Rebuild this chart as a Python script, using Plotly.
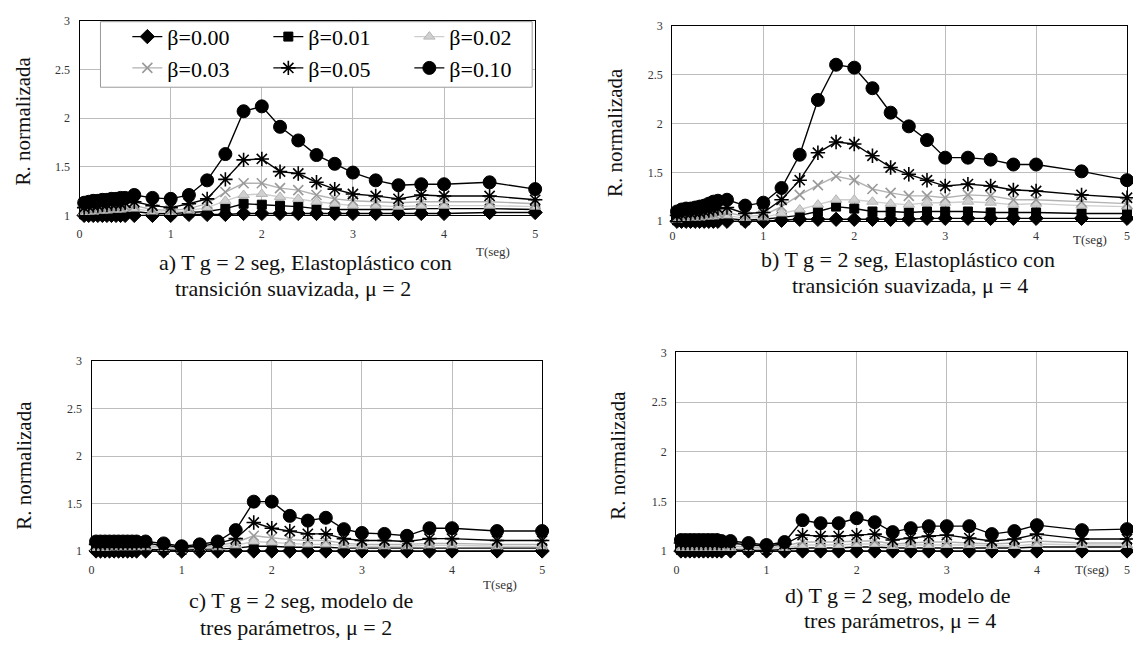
import plotly.graph_objects as go

W, H = 1133, 648

# Periods T (s) shared by every curve
T = [0.05, 0.1, 0.15, 0.2, 0.25, 0.3, 0.35, 0.4, 0.45, 0.5, 0.6, 0.8, 1.0, 1.2, 1.4,
     1.6, 1.8, 2.0, 2.2, 2.4, 2.6, 2.8, 3.0, 3.25, 3.5, 3.75, 4.0, 4.5, 5.0]

# a) smoothed elastoplastic, mu = 2
A_000 = [1.00, 1.00, 1.00, 1.00, 1.00, 1.00, 1.00, 1.00, 1.00, 1.00, 1.00, 1.00, 1.00, 1.01, 1.01,
         1.01, 1.02, 1.02, 1.02, 1.02, 1.02, 1.02, 1.02, 1.02, 1.02, 1.02, 1.02, 1.03, 1.03]
A_001 = [1.01, 1.02, 1.02, 1.02, 1.03, 1.03, 1.03, 1.03, 1.04, 1.04, 1.04, 1.02, 1.02, 1.03, 1.04,
         1.07, 1.12, 1.11, 1.10, 1.09, 1.07, 1.06, 1.06, 1.06, 1.06, 1.07, 1.07, 1.07, 1.06]
A_002 = [1.03, 1.04, 1.04, 1.05, 1.05, 1.05, 1.06, 1.06, 1.06, 1.07, 1.07, 1.04, 1.03, 1.05, 1.08,
         1.15, 1.21, 1.22, 1.19, 1.17, 1.14, 1.12, 1.10, 1.10, 1.09, 1.10, 1.10, 1.10, 1.09]
A_003 = [1.05, 1.06, 1.06, 1.07, 1.07, 1.08, 1.08, 1.08, 1.09, 1.09, 1.10, 1.06, 1.05, 1.07, 1.12,
         1.24, 1.33, 1.33, 1.28, 1.26, 1.21, 1.17, 1.15, 1.14, 1.13, 1.14, 1.14, 1.14, 1.12]
A_005 = [1.08, 1.09, 1.10, 1.10, 1.11, 1.11, 1.12, 1.12, 1.12, 1.13, 1.14, 1.10, 1.08, 1.12, 1.17,
         1.37, 1.57, 1.58, 1.45, 1.43, 1.34, 1.27, 1.22, 1.20, 1.17, 1.21, 1.20, 1.20, 1.16]
A_010 = [1.13, 1.14, 1.15, 1.15, 1.16, 1.16, 1.17, 1.17, 1.18, 1.18, 1.21, 1.18, 1.17, 1.21, 1.36,
         1.63, 2.07, 2.12, 1.91, 1.77, 1.62, 1.53, 1.44, 1.36, 1.31, 1.32, 1.32, 1.34, 1.27]

# b) smoothed elastoplastic, mu = 4
B_000 = [1.00, 1.00, 1.00, 1.00, 1.00, 1.00, 1.00, 1.00, 1.00, 1.00, 1.00, 1.00, 1.00, 1.01, 1.02,
         1.02, 1.02, 1.02, 1.02, 1.02, 1.02, 1.03, 1.03, 1.03, 1.03, 1.03, 1.03, 1.03, 1.03]
B_001 = [1.01, 1.01, 1.02, 1.02, 1.02, 1.02, 1.03, 1.03, 1.03, 1.03, 1.03, 1.01, 1.02, 1.04, 1.06,
         1.10, 1.15, 1.13, 1.10, 1.10, 1.09, 1.10, 1.10, 1.10, 1.09, 1.09, 1.09, 1.08, 1.08]
B_002 = [1.02, 1.03, 1.03, 1.04, 1.04, 1.04, 1.05, 1.05, 1.05, 1.06, 1.06, 1.03, 1.04, 1.08, 1.12,
         1.17, 1.22, 1.22, 1.20, 1.18, 1.17, 1.19, 1.19, 1.20, 1.19, 1.17, 1.18, 1.16, 1.15]
B_003 = [1.04, 1.05, 1.05, 1.06, 1.06, 1.06, 1.07, 1.07, 1.08, 1.08, 1.09, 1.05, 1.06, 1.15, 1.27,
         1.37, 1.46, 1.42, 1.33, 1.29, 1.26, 1.26, 1.24, 1.27, 1.26, 1.22, 1.22, 1.20, 1.18]
B_005 = [1.06, 1.07, 1.08, 1.08, 1.09, 1.09, 1.10, 1.11, 1.12, 1.13, 1.14, 1.08, 1.09, 1.22, 1.42,
         1.70, 1.81, 1.79, 1.67, 1.55, 1.48, 1.42, 1.36, 1.38, 1.36, 1.32, 1.31, 1.27, 1.24]
B_010 = [1.10, 1.12, 1.13, 1.13, 1.14, 1.15, 1.16, 1.18, 1.20, 1.21, 1.22, 1.16, 1.19, 1.34, 1.68,
         2.24, 2.60, 2.57, 2.36, 2.11, 1.97, 1.83, 1.65, 1.65, 1.63, 1.58, 1.58, 1.51, 1.42]

# c) three-parameter model, mu = 2
C_000 = [1.00, 1.00, 1.00, 1.00, 1.00, 1.00, 1.00, 1.00, 1.00, 1.00, 1.00, 1.00, 1.00, 1.00, 1.00,
         1.00, 1.00, 1.00, 1.00, 1.00, 1.00, 1.00, 1.00, 1.00, 1.00, 1.00, 1.00, 1.00, 1.00]
C_001 = [1.02, 1.02, 1.02, 1.02, 1.02, 1.02, 1.02, 1.02, 1.02, 1.02, 1.02, 1.01, 1.01, 1.02, 1.02,
         1.03, 1.05, 1.05, 1.04, 1.04, 1.04, 1.03, 1.03, 1.03, 1.03, 1.03, 1.03, 1.03, 1.03]
C_002 = [1.03, 1.03, 1.03, 1.04, 1.04, 1.04, 1.04, 1.04, 1.04, 1.04, 1.04, 1.03, 1.02, 1.03, 1.04,
         1.06, 1.10, 1.09, 1.08, 1.07, 1.07, 1.06, 1.05, 1.05, 1.05, 1.06, 1.06, 1.05, 1.05]
C_003 = [1.05, 1.05, 1.05, 1.05, 1.05, 1.06, 1.06, 1.06, 1.06, 1.06, 1.06, 1.04, 1.03, 1.04, 1.06,
         1.09, 1.16, 1.14, 1.12, 1.11, 1.11, 1.08, 1.07, 1.07, 1.07, 1.08, 1.08, 1.07, 1.07]
C_005 = [1.07, 1.07, 1.08, 1.08, 1.08, 1.08, 1.08, 1.08, 1.08, 1.08, 1.08, 1.06, 1.04, 1.05, 1.08,
         1.13, 1.30, 1.24, 1.21, 1.18, 1.18, 1.13, 1.11, 1.11, 1.10, 1.13, 1.13, 1.11, 1.11]
C_010 = [1.10, 1.10, 1.10, 1.10, 1.10, 1.10, 1.10, 1.10, 1.10, 1.10, 1.10, 1.08, 1.05, 1.07, 1.10,
         1.22, 1.52, 1.52, 1.37, 1.32, 1.35, 1.23, 1.19, 1.18, 1.16, 1.24, 1.24, 1.21, 1.21]

# d) three-parameter model, mu = 4
D_000 = [1.00, 1.00, 1.00, 1.00, 1.00, 1.00, 1.00, 1.00, 1.00, 1.00, 1.00, 1.00, 1.00, 1.00, 1.00,
         1.00, 1.00, 1.00, 1.00, 1.00, 1.00, 1.00, 1.00, 1.00, 1.00, 1.00, 1.00, 1.00, 1.00]
D_001 = [1.01, 1.01, 1.01, 1.01, 1.01, 1.01, 1.01, 1.01, 1.01, 1.01, 1.01, 1.01, 1.01, 1.02, 1.03,
         1.03, 1.03, 1.04, 1.04, 1.03, 1.03, 1.03, 1.03, 1.03, 1.03, 1.03, 1.04, 1.04, 1.04]
D_002 = [1.03, 1.03, 1.03, 1.03, 1.03, 1.03, 1.03, 1.03, 1.03, 1.03, 1.03, 1.02, 1.02, 1.03, 1.06,
         1.06, 1.06, 1.07, 1.07, 1.05, 1.06, 1.06, 1.06, 1.06, 1.05, 1.05, 1.07, 1.06, 1.06]
D_003 = [1.05, 1.05, 1.05, 1.05, 1.05, 1.05, 1.05, 1.05, 1.05, 1.05, 1.05, 1.04, 1.03, 1.05, 1.09,
         1.09, 1.09, 1.10, 1.10, 1.07, 1.08, 1.09, 1.09, 1.08, 1.07, 1.08, 1.10, 1.08, 1.08]
D_005 = [1.08, 1.08, 1.08, 1.08, 1.08, 1.08, 1.08, 1.08, 1.08, 1.08, 1.08, 1.06, 1.05, 1.07, 1.16,
         1.15, 1.15, 1.16, 1.17, 1.11, 1.13, 1.15, 1.16, 1.13, 1.10, 1.12, 1.17, 1.12, 1.12]
D_010 = [1.11, 1.11, 1.11, 1.11, 1.11, 1.11, 1.11, 1.11, 1.11, 1.10, 1.10, 1.08, 1.06, 1.09, 1.31,
         1.28, 1.28, 1.33, 1.29, 1.19, 1.23, 1.25, 1.25, 1.25, 1.17, 1.20, 1.26, 1.21, 1.22]

BETA_LABELS = ["β=0.00", "β=0.01", "β=0.02", "β=0.03", "β=0.05", "β=0.10"]
X_TICKS = [0, 1, 2, 3, 4, 5]
Y_TICKS = [1, 1.5, 2, 2.5, 3]
Y_TICK_TEXT = ["1", "1.5", "2", "2.5", "3"]

SERIF = "Liberation Serif, Times New Roman, serif"

# line / marker look of each beta curve
STYLES = [
    dict(line=dict(color="black", width=1.4),
         marker=dict(symbol="diamond", size=11, color="black", line=dict(color="black", width=1))),
    dict(line=dict(color="black", width=1.4),
         marker=dict(symbol="square", size=9, color="black", line=dict(color="black", width=1))),
    dict(line=dict(color="#cdcdcd", width=1.4),
         marker=dict(symbol="triangle-up", size=10, color="#d0d0d0", line=dict(color="#b5b5b5", width=1))),
    dict(line=dict(color="#b2b2b2", width=1.4),
         marker=dict(symbol="x-thin-open", size=10, color="#999999", line=dict(color="#999999", width=1.6))),
    dict(line=dict(color="black", width=1.4),
         marker=dict(symbol="asterisk-open", size=12, color="black", line=dict(color="black", width=1.6))),
    dict(line=dict(color="black", width=1.4),
         marker=dict(symbol="circle", size=13, color="black", line=dict(color="black", width=1))),
]

PANELS = [
    dict(series=[A_000, A_001, A_002, A_003, A_005, A_010], box=(77, 535, 14, 213),
         cap1=("a) T g = 2 seg, Elastoplástico con", 304, 261),
         cap2=("transición suavizada, μ = 2", 292, 288),
         tseg=(493, 250), ytitle=(21, 116)),
    dict(series=[B_000, B_001, B_002, B_003, B_005, B_010], box=(673, 1130, 19, 219),
         cap1=("b) T g = 2 seg, Elastoplástico con", 910, 258),
         cap2=("transición suavizada, μ = 4", 912, 285),
         tseg=(1093, 238), ytitle=(615, 128)),
    dict(series=[C_000, C_001, C_002, C_003, C_005, C_010], box=(89, 542, 362, 556),
         cap1=("c) T g = 2 seg, modelo de", 300, 607),
         cap2=("tres parámetros, μ = 2", 295, 634),
         tseg=(500, 590), ytitle=(21, 468)),
    dict(series=[D_000, D_001, D_002, D_003, D_005, D_010], box=(677, 1130, 353, 556),
         cap1=("d) T g = 2 seg, modelo de", 899, 601),
         cap2=("tres parámetros, μ = 4", 902, 627),
         tseg=(1095, 575), ytitle=(618, 458)),
]


def px_x(x):
    return x / W


def px_y(y):
    return 1 - y / H


fig = go.Figure()
annotations = []
layout_axes = {}

for i, p in enumerate(PANELS):
    n = "" if i == 0 else str(i + 1)
    x0, x1, y0, y1 = p["box"]
    axis_common = dict(showline=True, linecolor="black", linewidth=1.4, mirror=True,
                       showgrid=True, gridcolor="#bdbdbd", gridwidth=1, zeroline=False,
                       ticks="", tickfont=dict(family=SERIF, size=12, color="#333"))
    layout_axes["xaxis" + n] = dict(axis_common, domain=[px_x(x0), px_x(x1)], range=[0, 5],
                                    tickvals=X_TICKS, anchor="y" + n,
                                    ticklabelstandoff=3 if i == 1 else 7)
    layout_axes["yaxis" + n] = dict(axis_common, domain=[px_y(y1), px_y(y0)], range=[1, 3],
                                    tickvals=Y_TICKS, ticktext=Y_TICK_TEXT, anchor="x" + n,
                                    ticklabelstandoff=6)
    for k, (vals, st) in enumerate(zip(p["series"], STYLES)):
        fig.add_trace(go.Scatter(
            x=T, y=vals, mode="lines+markers", name=BETA_LABELS[k],
            line=st["line"], marker=st["marker"], cliponaxis=False,
            xaxis="x" + n, yaxis="y" + n,
            showlegend=(i == 0), legend="legend" if k < 3 else "legend2",
        ))
    for text, cx, cy in (p["cap1"], p["cap2"]):
        annotations.append(dict(text=text, x=px_x(cx), y=px_y(cy), xref="paper", yref="paper",
                                showarrow=False, xanchor="center", yanchor="middle",
                                font=dict(family=SERIF, size=22, color="#111")))
    tx, ty = p["tseg"]
    annotations.append(dict(text="T(seg)", x=px_x(tx), y=px_y(ty), xref="paper", yref="paper",
                            showarrow=False, xanchor="center", yanchor="middle",
                            font=dict(family=SERIF, size=13, color="#333")))
    yx, yy = p["ytitle"]
    annotations.append(dict(text="R. normalizada", x=px_x(yx), y=px_y(yy), xref="paper",
                            yref="paper", showarrow=False, textangle=-90,
                            xanchor="center", yanchor="middle",
                            font=dict(family=SERIF, size=21, color="#111")))

legend_common = dict(orientation="h", xanchor="left", yanchor="top", entrywidth=96,
                     entrywidthmode="pixels", bgcolor="rgba(0,0,0,0)", borderwidth=0,
                     font=dict(family=SERIF, size=22, color="black"), itemclick=False,
                     itemdoubleclick=False)

fig.update_layout(
    width=W, height=H, autosize=False,
    margin=dict(l=0, r=0, t=0, b=0),
    paper_bgcolor="white", plot_bgcolor="white",
    annotations=annotations,
    legend=dict(legend_common, x=px_x(125), y=px_y(9)),
    legend2=dict(legend_common, x=px_x(125), y=px_y(41)),
    shapes=[dict(type="rect", xref="paper", yref="paper",
                 x0=px_x(98), x1=px_x(532), y0=px_y(82), y1=px_y(15),
                 line=dict(color="#9a9a9a", width=1), fillcolor="white", layer="above")],
    **layout_axes,
)

fig.write_html("out.html")
